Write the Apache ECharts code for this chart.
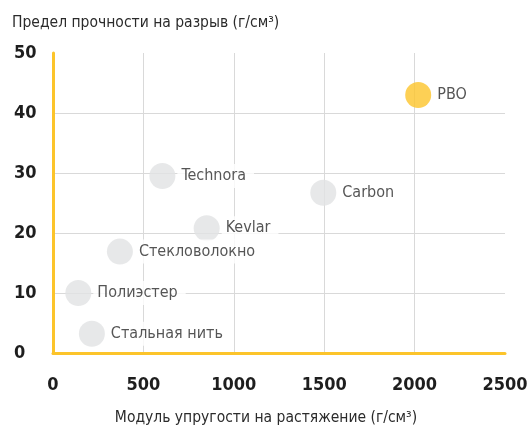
<!DOCTYPE html>
<html>
<head>
    <title>Предел прочности</title>
    <meta charset="UTF-8">
    <script type="text/javascript" src="https://cdn.jsdelivr.net/npm/echarts@6/dist/echarts.min.js"></script>
    <style>
        html, body { margin: 0; padding: 0; background: #fff; }
    </style>
</head>
<body>
<div id="main" style="width: 529px;height:425px;"></div>
<script type="text/javascript">
    // данные
    var names = ['PBO', 'Technora', 'Carbon', 'Kevlar', 'Стекловолокно', 'Полиэстер', 'Стальная нить'];
    var modulus = [2020, 605, 1495, 850, 370, 140, 215];
    var strength = [43.0, 29.5, 26.7, 20.8, 16.9, 10.0, 3.2];
    var xTicks = [0, 500, 1000, 1500, 2000, 2500];
    var yTicks = [0, 10, 20, 30, 40, 50];

    var font = "'DejaVu Sans Condensed', sans-serif";
    var yellow = '#fcc42a';

    var points = [];
    for (var i = 0; i < names.length; i++) {
        points.push({
            name: names[i],
            value: [modulus[i], strength[i]],
            itemStyle: { color: names[i] == 'PBO' ? yellow : '#e1e2e4' }
        });
    }

    var myChart = echarts.init(document.getElementById("main"));
    myChart.setOption({
        animation: false,
        title: [{
            text: 'Предел прочности на разрыв (г/см³)',
            left: 12,
            top: 15,
            padding: 0,
            textStyle: { fontFamily: font, fontSize: 15.5, fontWeight: 'normal', color: '#2b2b2b' }
        }, {
            text: 'Модуль упругости на растяжение (г/см³)',
            left: 266,
            top: 410,
            textAlign: 'center',
            padding: 0,
            textStyle: { fontFamily: font, fontSize: 15.5, fontWeight: 'normal', color: '#2b2b2b' }
        }],
        grid: { left: 53, right: 24, top: 53, bottom: 72, outerBoundsMode: 'none' },
        xAxis: {
            type: 'value',
            min: xTicks[0],
            max: xTicks[xTicks.length - 1],
            interval: xTicks[1] - xTicks[0],
            axisLine: { lineStyle: { color: yellow, width: 3 } },
            axisTick: { show: false },
            axisLabel: {
                margin: 23, fontFamily: font, fontSize: 18, fontWeight: 'bold', color: '#1e1e1e',
                formatter: function (v) { return String(v); }
            },
            splitLine: { showMaxLine: false, lineStyle: { color: '#d9d9d9', width: 1 } }
        },
        yAxis: {
            type: 'value',
            min: yTicks[0],
            max: yTicks[yTicks.length - 1],
            interval: yTicks[1] - yTicks[0],
            axisLine: { show: true, lineStyle: { color: yellow, width: 3 } },
            axisTick: { show: false },
            axisLabel: {
                align: 'left', margin: 39, padding: [6, 0, 0, 0],
                fontFamily: font, fontSize: 18, fontWeight: 'bold', color: '#1e1e1e'
            },
            splitLine: { showMaxLine: false, lineStyle: { color: '#d9d9d9', width: 1 } }
        },
        series: [{
            type: 'scatter',
            symbolSize: 26,
            data: points,
            label: {
                show: true,
                position: 'right',
                distance: 2,
                formatter: '{b}',
                fontFamily: font,
                fontSize: 16,
                color: '#2b2b2b',
                backgroundColor: '#fff',
                padding: [4, 8, 4, 4]
            }
        }]
    });
</script>
</body>
</html>
